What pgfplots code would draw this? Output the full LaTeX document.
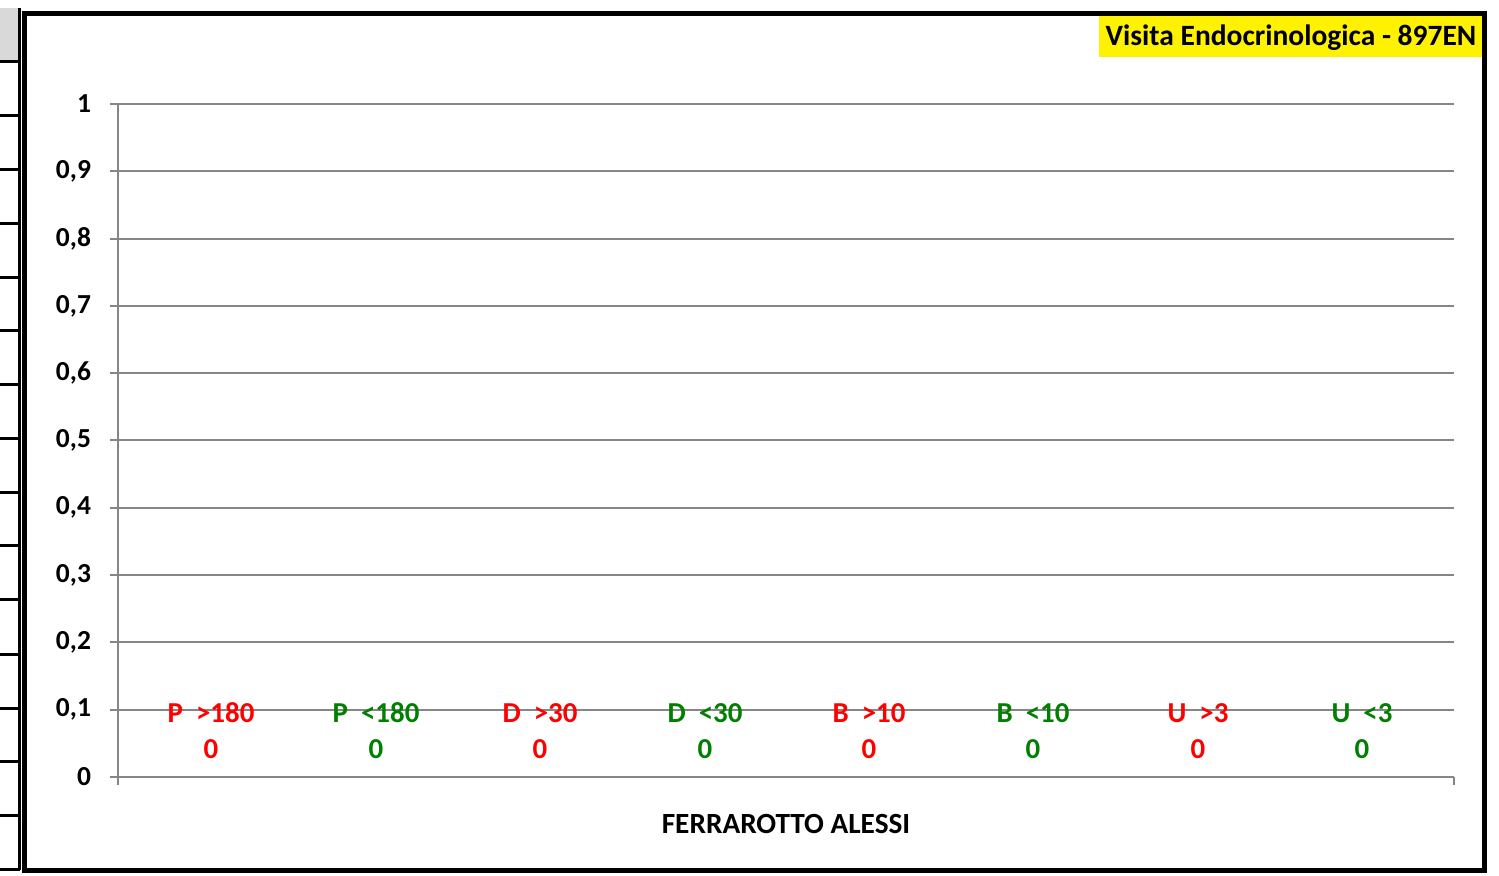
\documentclass[border=0pt]{standalone}
\usepackage{fontspec}
\setmainfont{Carlito}
\usepackage{pgfplots}
\pgfplotsset{compat=1.18}
\definecolor{gridgray}{RGB}{134,134,134}
\definecolor{xlred}{RGB}{255,0,0}
\definecolor{xlgreen}{RGB}{0,128,0}
\definecolor{cellgray}{RGB}{217,217,217}
\begin{document}
\begin{tikzpicture}
\begin{scope}[x=0.5bp,y=0.5bp]
\path[use as bounding box] (0,0) rectangle (1499,875);
% spreadsheet strip at the left
\fill[cellgray] (0,875-8) rectangle (19,875-62);
\foreach \yy in {62,116,170,224,278,331,385,439,493,546,600,654,708,761,815,869}{
  \draw[line width=1.5bp] (0,875-\yy) -- (20,875-\yy);
}
\draw[line width=1.5bp] (19.5,875-8) -- (19.5,875-870);
% title box
\fill[yellow] (1099,875-57) rectangle (1482,875-13);
\node[font=\fontsize{14.8}{18}\selectfont\bfseries] at (1291,875-38) {Visita Endocrinologica - 897EN};
\end{scope}
\begin{axis}[
  at={(59bp,49bp)}, anchor=south west,
  scale only axis, width=668bp, height=336.5bp,
  xmin=0, xmax=8, ymin=0, ymax=1,
  ytick={0,0.1,0.2,0.3,0.4,0.5,0.6,0.7,0.8,0.9,1},
  xtick={0,8}, xticklabels={,,},
  axis x line*=bottom, axis y line*=left,
  axis line style={gridgray, line width=1bp, -},
  ymajorgrids, grid style={gridgray, line width=1bp},
  tick style={gridgray, line width=1bp},
  tick align=outside, major tick length=4bp,
  /pgf/number format/assume math mode=true,
  /pgf/number format/use comma,
  ticklabel style={font=\fontsize{13.8}{16}\selectfont\bfseries, text=black},
  yticklabel style={xshift=-6bp},
  xlabel={FERRAROTTO ALESSI},
  xlabel style={at={(axis description cs:0.5,0)}, anchor=center, yshift=-23.5bp,
    font=\fontsize{14.7}{17}\selectfont\bfseries},
  clip=false,
  every node near coord/.append style={anchor=center, yshift=23bp, align=center,
    font=\fontsize{14.5}{18}\selectfont\bfseries},
]
\addplot[draw=none, mark=none, nodes near coords={P\ \ >180\\0}, every node near coord/.append style={text=xlred}] coordinates {(0.557,0)};
\addplot[draw=none, mark=none, nodes near coords={P\ \ <180\\0}, every node near coord/.append style={text=xlgreen}] coordinates {(1.545,0)};
\addplot[draw=none, mark=none, nodes near coords={D\ \ >30\\0}, every node near coord/.append style={text=xlred}] coordinates {(2.527,0)};
\addplot[draw=none, mark=none, nodes near coords={D\ \ <30\\0}, every node near coord/.append style={text=xlgreen}] coordinates {(3.515,0)};
\addplot[draw=none, mark=none, nodes near coords={B\ \ >10\\0}, every node near coord/.append style={text=xlred}] coordinates {(4.497,0)};
\addplot[draw=none, mark=none, nodes near coords={B\ \ <10\\0}, every node near coord/.append style={text=xlgreen}] coordinates {(5.479,0)};
\addplot[draw=none, mark=none, nodes near coords={U\ \ >3\\0}, every node near coord/.append style={text=xlred}] coordinates {(6.467,0)};
\addplot[draw=none, mark=none, nodes near coords={U\ \ <3\\0}, every node near coord/.append style={text=xlgreen}] coordinates {(7.449,0)};
\end{axis}
\draw[line width=2.5bp] (12.25bp,430.75bp) rectangle (742bp,2.5bp);
\end{tikzpicture}
\end{document}
